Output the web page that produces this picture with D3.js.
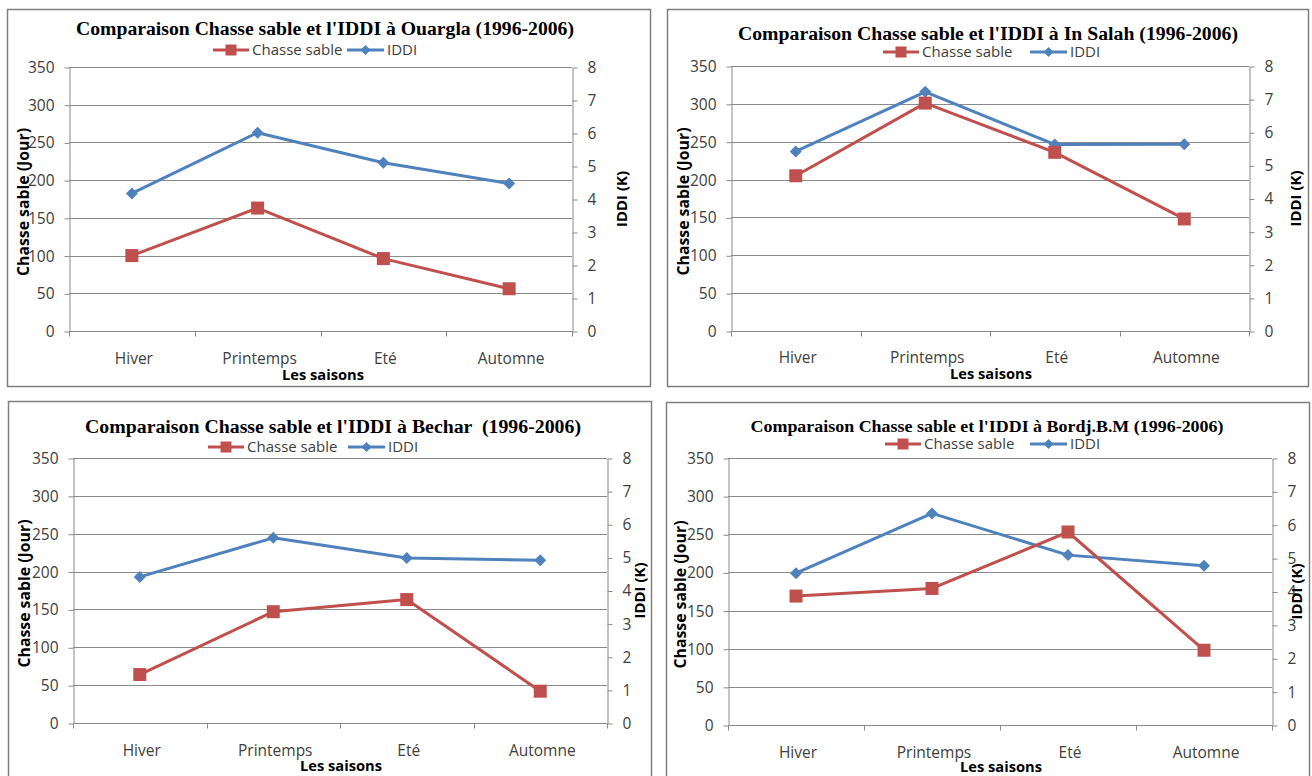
<!DOCTYPE html>
<html><head><meta charset="utf-8">
<script src="https://cdn.jsdelivr.net/npm/d3@7"></script>
<style>body{margin:0;background:#fff} svg{display:block}</style>
</head><body><svg id="c" width="1312" height="776"></svg>
<script>
const seasons = ["Hiver","Printemps","Eté","Automne"];
const leftTicks = [0,50,100,150,200,250,300,350];
const rightTicks = [0,1,2,3,4,5,6,7,8];
const titles = [
  "Comparaison Chasse sable et l'IDDI à Ouargla (1996-2006)",
  "Comparaison Chasse sable et l'IDDI à In Salah (1996-2006)",
  "Comparaison Chasse sable et l'IDDI à Bechar  (1996-2006)",
  "Comparaison Chasse sable et l'IDDI à Bordj.B.M (1996-2006)"
];
const chasseOuargla = [100,163,96,56];
const iddiOuargla   = [4.17,6.01,5.10,4.47];
const chasseInSalah = [205,301,236,148];
const iddiInSalah   = [5.42,7.22,5.63,5.64];
const chasseBechar  = [64,147,163,42];
const iddiBechar    = [4.41,5.59,4.98,4.91];
const chasseBordj   = [169,179,253,98];
const iddiBordj     = [4.55,6.34,5.09,4.77];
const seriesNames = ["Chasse sable","IDDI"];
const xTitle = "Les saisons", yTitle = "Chasse sable (Jour)", y2Title = "IDDI (K)";

const chasseData = [chasseOuargla, chasseInSalah, chasseBechar, chasseBordj];
const iddiData = [iddiOuargla, iddiInSalah, iddiBechar, iddiBordj];

const RED = "#C0504D", BLUE = "#4F81BD", GRID = "#8a8a8a", TXT = "#404040";
const SANS = "'Open Sans', sans-serif", SERIF = "'Liberation Serif', 'Times New Roman', serif";

const layout = [
 {box:[7,9,643,377],  l:69, r:572, t:67, b:331, tx:325, ty:29, tw:498, ts:18, ly:50, lx:213, bx:347, cy:359, xtx:323, xty:375, ytx:24,  y2x:622},
 {box:[667,9,641,377],l:731,r:1249,t:66, b:331, tx:988, ty:34, tw:500, ts:18, ly:52, lx:883, bx:1030,cy:358, xtx:991, xty:374, ytx:684, y2x:1296},
 {box:[8,401,643,400],l:73, r:607, t:458,b:723, tx:333, ty:427,tw:496, ts:18, ly:447,lx:208, bx:348, cy:751, xtx:341, xty:766, ytx:25,  y2x:640},
 {box:[666,402,643,400],l:728,r:1272,t:458,b:725,tx:987, ty:427,tw:473, ts:16, ly:444,lx:885, bx:1030,cy:753, xtx:1001,xty:767, ytx:681, y2x:1297}
];

const svg = d3.select("#c");

layout.forEach((L, i) => {
  const g = svg.append("g");
  g.append("rect").attr("x", L.box[0]+0.5).attr("y", L.box[1]+0.5).attr("width", L.box[2]).attr("height", L.box[3])
    .attr("fill", "#fff").attr("stroke", "#808080").attr("stroke-width", 1.5);

  const x = d3.scaleBand().domain(seasons).range([L.l, L.r]).padding(0);
  const y = d3.scaleLinear().domain([0,350]).range([L.b, L.t]);
  const y2 = d3.scaleLinear().domain([0,8]).range([L.b, L.t]);
  const bw = x.bandwidth();
  const cx = s => x(s) + bw/2;

  // gridlines
  g.append("g").selectAll("line").data(leftTicks.filter(v => v > 0)).join("line")
    .attr("x1", L.l).attr("x2", L.r).attr("y1", d => Math.round(y(d))+0.5).attr("y2", d => Math.round(y(d))+0.5)
    .attr("stroke", GRID).attr("stroke-width", 1);

  // left axis
  const ax = g.append("g").attr("transform", `translate(${L.l+0.5},0.5)`)
    .call(d3.axisLeft(y).tickValues(leftTicks).tickSize(5).tickSizeOuter(0).tickPadding(10));
  ax.selectAll("path,line").attr("stroke", GRID);
  ax.selectAll("text").attr("font-family", SANS).attr("font-size", 15.5).attr("fill", TXT);

  // right axis
  const ar = g.append("g").attr("transform", `translate(${L.r+0.5},0.5)`)
    .call(d3.axisRight(y2).tickValues(rightTicks).tickSize(5).tickSizeOuter(0).tickPadding(10));
  ar.selectAll("path,line").attr("stroke", GRID);
  ar.selectAll("text").attr("font-family", SANS).attr("font-size", 15.5).attr("fill", TXT);

  // bottom axis
  const ab = g.append("g").attr("transform", `translate(0,${Math.round(L.b)+0.5})`)
    .call(d3.axisBottom(x).tickSize(0).tickPadding(0).tickSizeOuter(0));
  ab.select("path").attr("stroke", GRID).attr("d", `M${L.l},0H${L.r}`);
  ab.selectAll("text").remove();
  const edges = seasons.map(s => x(s)).concat([L.r]);
  ab.selectAll("line.edge").data(edges).join("line").attr("class","edge")
    .attr("x1", d => Math.round(d)+0.5).attr("x2", d => Math.round(d)+0.5).attr("y1", 0).attr("y2", 5).attr("stroke", GRID);

  // category labels
  g.append("g").selectAll("text").data(seasons).join("text")
    .attr("x", d => cx(d)+2).attr("y", L.cy).attr("dy","0.35em").attr("text-anchor","middle")
    .attr("font-family", SANS).attr("font-size", 15.5).attr("fill", TXT).text(d => d);

  // axis titles
  g.append("text").attr("x", L.xtx).attr("y", L.xty).attr("dy","0.35em").attr("text-anchor","middle")
    .attr("font-family", SANS).attr("font-weight","bold").attr("font-size", 14.5).attr("fill","#000")
    .attr("textLength", 82).attr("lengthAdjust","spacingAndGlyphs").text(xTitle);
  g.append("text").attr("transform", `translate(${L.ytx},${(L.t+L.b)/2+3}) rotate(-90)`).attr("dy","0.35em").attr("text-anchor","middle")
    .attr("font-family", SANS).attr("font-weight","bold").attr("font-size", 15.5).attr("fill","#000")
    .attr("textLength", 148).attr("lengthAdjust","spacingAndGlyphs").text(yTitle);
  g.append("text").attr("transform", `translate(${L.y2x},${(L.t+L.b)/2}) rotate(-90)`).attr("dy","0.35em").attr("text-anchor","middle")
    .attr("font-family", SANS).attr("font-weight","bold").attr("font-size", 15).attr("fill","#000").text(y2Title);

  // title
  g.append("text").attr("x", L.tx).attr("y", L.ty).attr("dy","0.33em").attr("text-anchor","middle")
    .attr("font-family", SERIF).attr("font-weight","bold").attr("font-size", L.ts).attr("fill","#000")
    .attr("textLength", L.tw).attr("lengthAdjust","spacingAndGlyphs").style("white-space","pre").text(titles[i]);

  // legend
  const lg = g.append("g");
  lg.append("line").attr("x1", L.lx).attr("x2", L.lx+36).attr("y1", L.ly).attr("y2", L.ly).attr("stroke", RED).attr("stroke-width", 3);
  lg.append("rect").attr("x", L.lx+18-5.5).attr("y", L.ly-5.5).attr("width", 11).attr("height", 11).attr("fill", RED);
  lg.append("text").attr("x", L.lx+39).attr("y", L.ly).attr("dy","0.35em").attr("font-family", SANS).attr("font-size", 15).attr("fill", TXT).text(seriesNames[0]);
  lg.append("line").attr("x1", L.bx).attr("x2", L.bx+37).attr("y1", L.ly).attr("y2", L.ly).attr("stroke", BLUE).attr("stroke-width", 3);
  const dx = L.bx+18.5, h0 = 5;
  lg.append("path").attr("d", `M${dx},${L.ly-h0}L${dx+h0},${L.ly}L${dx},${L.ly+h0}L${dx-h0},${L.ly}Z`).attr("fill", BLUE);
  lg.append("text").attr("x", L.bx+40).attr("y", L.ly).attr("dy","0.35em").attr("font-family", SANS).attr("font-size", 15).attr("fill", TXT).text(seriesNames[1]);

  // series
  const cdat = seasons.map((s,k) => ({s, v: chasseData[i][k]}));
  const idat = seasons.map((s,k) => ({s, v: iddiData[i][k]}));
  g.append("path").datum(idat).attr("fill","none").attr("stroke", BLUE).attr("stroke-width", 3).attr("stroke-linejoin","round")
    .attr("d", d3.line().x(d => cx(d.s)).y(d => y2(d.v)));
  g.append("path").datum(cdat).attr("fill","none").attr("stroke", RED).attr("stroke-width", 3).attr("stroke-linejoin","round")
    .attr("d", d3.line().x(d => cx(d.s)).y(d => y(d.v)));
  g.append("g").selectAll("path").data(idat).join("path")
    .attr("d", d => { const X = cx(d.s), Y = y2(d.v), h = 6; return `M${X},${Y-h}L${X+h},${Y}L${X},${Y+h}L${X-h},${Y}Z`; })
    .attr("fill", BLUE);
  g.append("g").selectAll("rect").data(cdat).join("rect")
    .attr("x", d => cx(d.s)-6.5).attr("y", d => y(d.v)-6.5).attr("width", 13).attr("height", 13).attr("fill", RED);
});
</script></body></html>
